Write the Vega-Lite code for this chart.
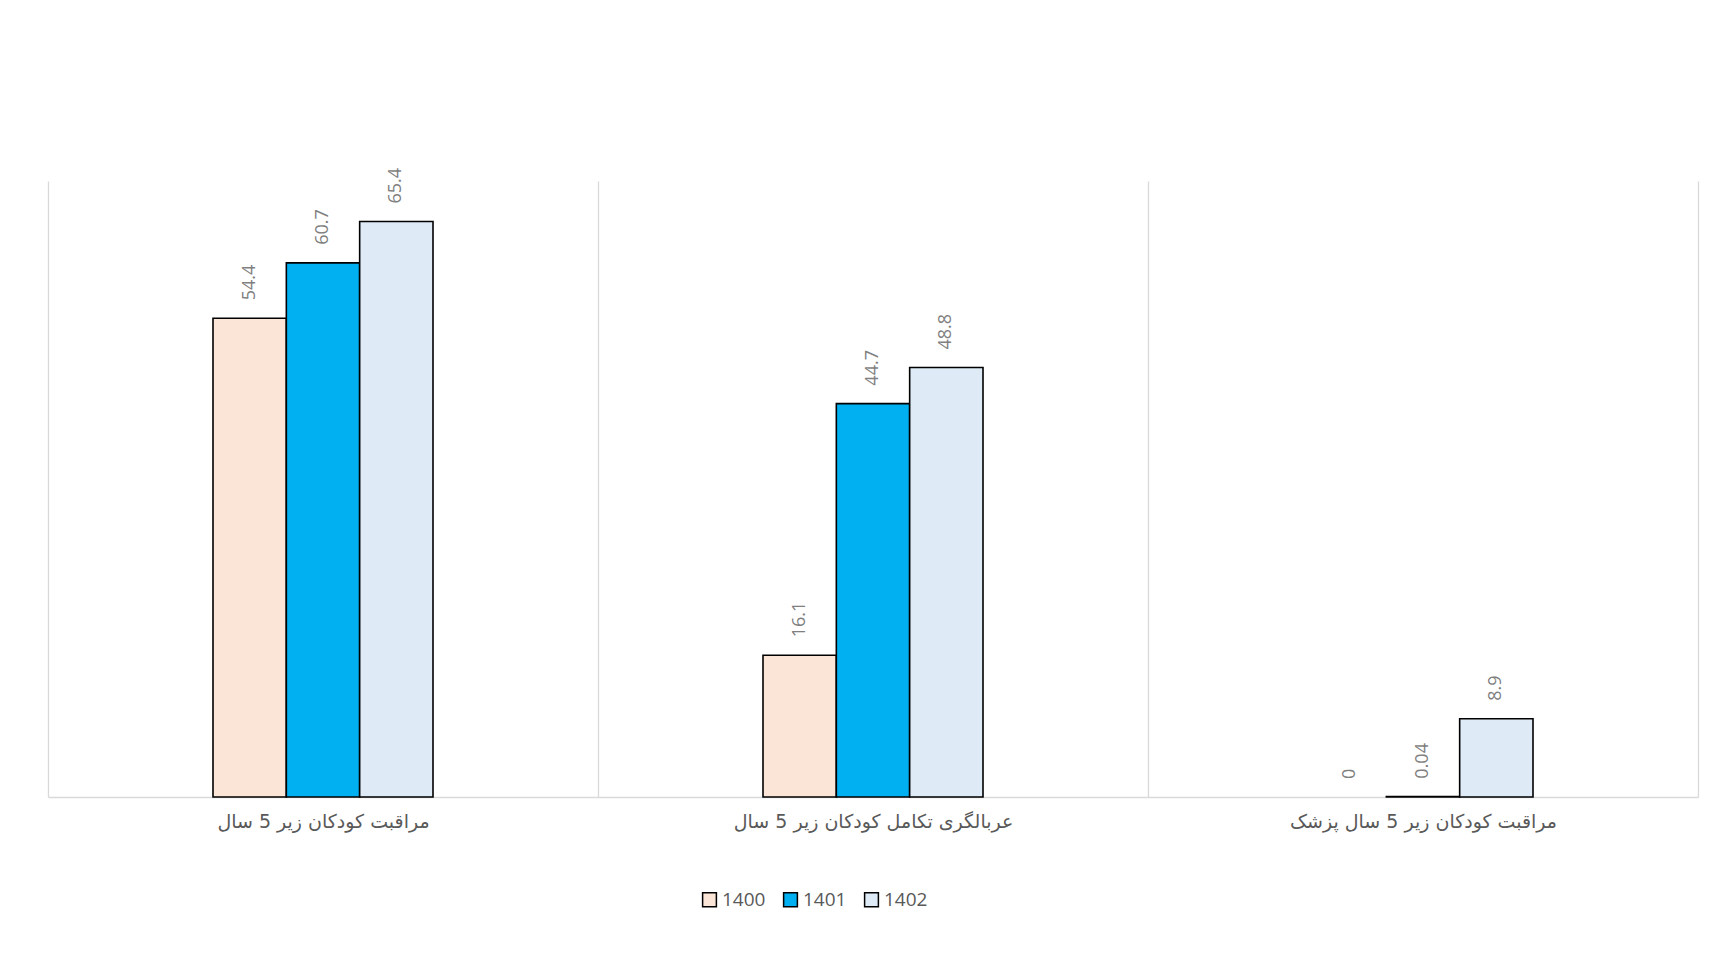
{
  "$schema": "https://vega.github.io/schema/vega-lite/v6.json",
  "autosize": {"type": "none"},
  "width": 1650,
  "height": 616,
  "padding": {"left": 48, "top": 181, "right": 20, "bottom": 156},
  "background": "white",
  "config": {"view": {"stroke": null}},
  "data": {
    "values": [
      {"group": "مراقبت کودکان زیر 5 سال", "year": "1400", "value": 54.4},
      {"group": "مراقبت کودکان زیر 5 سال", "year": "1401", "value": 60.7},
      {"group": "مراقبت کودکان زیر 5 سال", "year": "1402", "value": 65.4},
      {"group": "عربالگری تکامل کودکان زیر 5 سال", "year": "1400", "value": 16.1},
      {"group": "عربالگری تکامل کودکان زیر 5 سال", "year": "1401", "value": 44.7},
      {"group": "عربالگری تکامل کودکان زیر 5 سال", "year": "1402", "value": 48.8},
      {"group": "مراقبت کودکان زیر 5 سال پزشک", "year": "1400", "value": 0},
      {"group": "مراقبت کودکان زیر 5 سال پزشک", "year": "1401", "value": 0.04},
      {"group": "مراقبت کودکان زیر 5 سال پزشک", "year": "1402", "value": 8.9}
    ]
  },
  "encoding": {
    "x": {
      "field": "group",
      "type": "nominal",
      "sort": null,
      "scale": {"paddingInner": 0, "paddingOuter": 0},
      "axis": {
        "title": null,
        "labelAngle": 0,
        "tickBand": "extent",
        "grid": true,
        "gridColor": "#D9D9D9",
        "gridWidth": 1.3,
        "domainColor": "#D9D9D9",
        "domainWidth": 1.6,
        "ticks": false,
        "labelFont": "DejaVu Sans",
        "labelFontSize": 19,
        "labelColor": "#595959",
        "labelPadding": 15,
        "labelLimit": 0
      }
    },
    "xOffset": {
      "field": "year",
      "type": "nominal",
      "scale": {
        "domain": ["pad1", "pad2", "1400", "1401", "1402", "pad3", "pad4"],
        "paddingInner": 0,
        "paddingOuter": 0.25
      }
    },
    "y": {
      "field": "value",
      "type": "quantitative",
      "scale": {"domain": [0, 70]},
      "axis": null
    }
  },
  "layer": [
    {
      "mark": {"type": "bar", "stroke": "black", "strokeWidth": 1.6},
      "encoding": {
        "strokeOpacity": {
          "condition": {"test": "datum.value === 0", "value": 0},
          "value": 1
        },
        "color": {
          "field": "year",
          "type": "nominal",
          "scale": {"domain": ["1400", "1401", "1402"], "range": ["#FBE5D6", "#00B0F0", "#DEEBF7"]},
          "legend": {
            "title": null,
            "orient": "none",
            "legendX": 652,
            "legendY": 709,
            "direction": "horizontal",
            "symbolType": "square",
            "symbolSize": 190,
            "symbolStrokeColor": "black",
            "symbolStrokeWidth": 1.5,
            "labelFont": "Open Sans",
            "labelFontSize": 19,
            "labelColor": "#595959",
            "columnPadding": 14,
            "labelOffset": 3
          }
        }
      }
    },
    {
      "mark": {
        "type": "text",
        "angle": 270,
        "align": "left",
        "baseline": "middle",
        "dx": 18,
        "font": "Open Sans",
        "fontSize": 18,
        "color": "#7F7F7F"
      },
      "encoding": {
        "text": {"field": "value", "type": "quantitative"}
      }
    }
  ]
}
